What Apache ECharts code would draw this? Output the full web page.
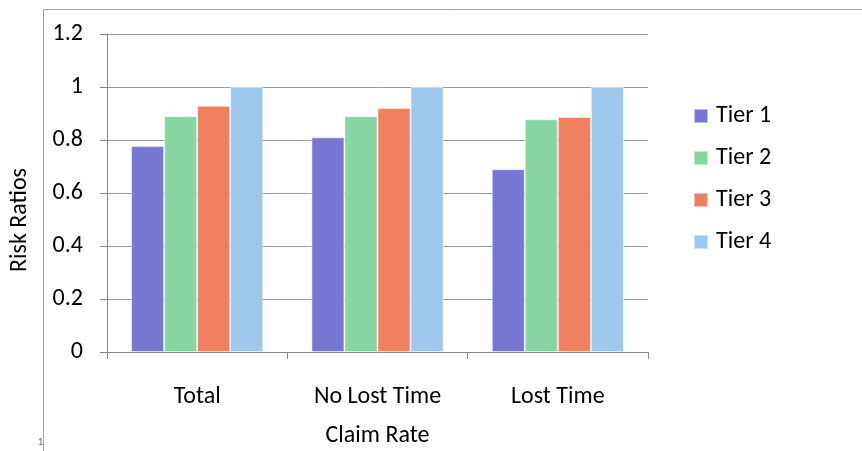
<!DOCTYPE html>
<html>
<head>
<meta charset="utf-8">
<script src="https://cdn.jsdelivr.net/npm/echarts@6/dist/echarts.min.js"></script>
<style>html,body{margin:0;padding:0;background:#fff;}#c{width:862px;height:451px;}</style>
</head>
<body>
<div id="c"></div>
<script>
const categories = ['Total', 'No Lost Time', 'Lost Time'];
const seriesNames = ['Tier 1', 'Tier 2', 'Tier 3', 'Tier 4'];
const tier1 = [0.777, 0.81, 0.69];
const tier2 = [0.89, 0.89, 0.878];
const tier3 = [0.929, 0.921, 0.887];
const tier4 = [1.0, 1.0, 1.0];
const yTicks = [0, 0.2, 0.4, 0.6, 0.8, 1, 1.2];

const colors = ['#7777D3', '#87D5A0', '#EF7F5F', '#9DC8EB'];
const FONT = 'Carlito, Lato, sans-serif';
const FS = 24;
const chart = echarts.init(document.getElementById('c'));
const dataSets = [tier1, tier2, tier3, tier4];
chart.setOption({
  animation: false,
  color: colors,
  textStyle: { fontFamily: FONT },
  grid: { left: 107, right: 214, top: 34, bottom: 99, containLabel: false, outerBoundsMode: 'none' },
  legend: {
    orient: 'vertical', left: 688, top: 99, itemWidth: 14, itemHeight: 14, itemGap: 18,
    icon: 'rect',
    textStyle: { fontSize: FS, lineHeight: 20, color: '#000', fontFamily: FONT, padding: [0, 0, 0, 3] },
    data: seriesNames
  },
  xAxis: {
    type: 'category', data: categories,
    name: 'Claim Rate', nameLocation: 'middle', nameGap: 72,
    nameTextStyle: { fontSize: FS, color: '#000', fontFamily: FONT },
    axisLine: { lineStyle: { color: '#888', width: 1 } },
    axisTick: { show: true, alignWithLabel: false, length: 7, lineStyle: { color: '#888' } },
    axisLabel: { fontSize: FS, color: '#000', margin: 33, fontFamily: FONT }
  },
  yAxis: {
    type: 'value', min: 0, max: 1.2, interval: 0.2,
    name: 'Risk Ratios', nameLocation: 'middle', nameGap: 75, nameRotate: 90,
    nameTextStyle: { fontSize: FS, color: '#000', fontFamily: FONT, padding: [0, 0, 0, -54] },
    axisLine: { show: true, lineStyle: { color: '#888', width: 1 } },
    axisTick: { show: true, length: 7, lineStyle: { color: '#888' } },
    axisLabel: { fontSize: FS, color: '#000', margin: 24, fontFamily: FONT,
      formatter: v => { const t = yTicks.find(x => Math.abs(x - v) < 1e-9); return t === undefined ? '' : String(t); } },
    splitLine: { lineStyle: { color: '#999', width: 1 } }
  },
  series: dataSets.map((d, i) => ({
    name: seriesNames[i], type: 'bar', data: d,
    barGap: '0%', barCategoryGap: '26.7%',
    itemStyle: { borderColor: 'rgba(255,255,255,0.5)', borderWidth: 1 }
  })),
  graphic: [
    { type: 'line', shape: { x1: 43.5, y1: 9.5, x2: 862, y2: 9.5 }, style: { stroke: '#a6a6a6', lineWidth: 1 } },
    { type: 'line', shape: { x1: 43.5, y1: 9.5, x2: 43.5, y2: 451 }, style: { stroke: '#a6a6a6', lineWidth: 1 } },
    { type: 'text', left: 38, top: 437, style: { text: '1', fontSize: 10, fill: '#666', fontFamily: FONT } }
  ]
});
</script>
</body>
</html>
